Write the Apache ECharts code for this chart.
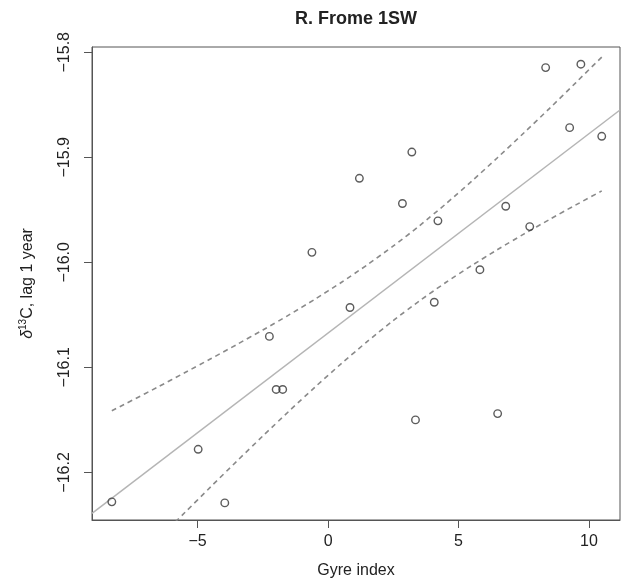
<!DOCTYPE html>
<html>
<head>
<meta charset="utf-8">
<script src="https://cdn.jsdelivr.net/npm/echarts@6/dist/echarts.min.js"></script>
<style>
  html, body { margin: 0; padding: 0; background: #fff; }
  #chart { width: 622px; height: 584px; }
</style>
</head>
<body>
<div id="chart"></div>
<script>
// Gyre index against δ13C (lag 1 year), R. Frome 1SW
const gyreIndex = [-8.29, -4.98, -3.96, -2.25, -1.99, -1.74, -0.62, 0.84, 1.20, 2.85, 3.21,
                   3.35, 4.07, 4.21, 5.82, 6.50, 6.81, 7.73, 8.34, 9.26, 9.69, 10.49];
const d13C = [-16.228, -16.178, -16.229, -16.0705, -16.121, -16.121, -15.9905, -16.043, -15.920,
              -15.944, -15.895, -16.150, -16.038, -15.9605, -16.007, -16.144, -15.9466, -15.966,
              -15.8146, -15.8718, -15.8114, -15.880];

// Fitted line (spans the plot region)
const fitX = [-9.05, 11.19];
const fitY = [-16.239, -15.855];

// Confidence band
const bandX = [-8.29, -7, -6, -5, -4, -3, -2, -1, 0, 1, 2, 3, 4, 5, 6, 7, 8, 9, 10, 10.49];
const bandUpper = [-16.1413, -16.1248, -16.1118, -16.0985, -16.0851, -16.0713, -16.0573, -16.0426,
                   -16.0272, -16.0109, -15.9935, -15.9750, -15.9550, -15.9338, -15.9116, -15.8886,
                   -15.8651, -15.8411, -15.8166, -15.8046];
const bandLower = [-16.3081, -16.2758, -16.2508, -16.2261, -16.2015, -16.1773, -16.1535, -16.1302,
                   -16.1076, -16.0859, -16.0653, -16.0460, -16.0280, -16.0112, -15.9954, -15.9804,
                   -15.9661, -15.9521, -15.9386, -15.9320];

const xTicks = [-5, 0, 5, 10];
const yTicks = [-16.2, -16.1, -16.0, -15.9, -15.8];

const titleText = 'R. Frome 1SW';
const xName = 'Gyre index';

const zip = (xs, ys) => xs.map((x, i) => [x, ys[i]]);
const minus = s => s.replace('-', '\u2212');

const FONT = 'Liberation Sans, Arial, Helvetica, sans-serif';
const INK = '#222';
const FRAME = '#555';

const GRID = { left: 92, top: 47, width: 528, height: 474 };

const chart = echarts.init(document.getElementById('chart'), null, { renderer: 'canvas' });

chart.setOption({
  animation: false,
  backgroundColor: '#fff',
  textStyle: { fontFamily: FONT },
  graphic: [{
    type: 'text',
    x: GRID.left + GRID.width / 2,
    y: 19,
    style: {
      text: titleText,
      fill: INK,
      font: 'bold 18px ' + FONT,
      textAlign: 'center',
      textVerticalAlign: 'middle'
    }
  }],
  grid: {
    left: GRID.left, top: GRID.top, width: GRID.width, height: GRID.height,
    show: true, borderColor: FRAME, borderWidth: 1, backgroundColor: 'transparent'
  },
  xAxis: {
    type: 'value',
    min: -9.05, max: 11.19,
    splitLine: { show: false },
    axisLine: { show: true, onZero: false, lineStyle: { color: FRAME, width: 1 } },
    axisTick: { show: true, length: 8, customValues: xTicks, lineStyle: { color: FRAME, width: 1 } },
    axisLabel: {
      customValues: xTicks, margin: 14, color: INK, fontSize: 16, fontFamily: FONT,
      formatter: v => minus(String(v))
    },
    name: xName, nameLocation: 'middle', nameGap: 43,
    nameTextStyle: { color: INK, fontSize: 16, fontFamily: FONT }
  },
  yAxis: {
    type: 'value',
    min: -16.2453, max: -15.795,
    splitLine: { show: false },
    axisLine: { show: true, onZero: false, lineStyle: { color: FRAME, width: 1 } },
    axisTick: { show: true, length: 8, customValues: yTicks, lineStyle: { color: FRAME, width: 1 } },
    axisLabel: {
      customValues: yTicks, rotate: 90, margin: 19, color: INK, fontSize: 16, fontFamily: FONT,
      formatter: v => minus(Number(v).toFixed(1))
    },
    name: '{d|\u03B4}{s|13}{c|C, lag 1 year}',
    nameLocation: 'middle', nameRotate: 90, nameGap: 56,
    nameTextStyle: {
      color: INK, fontSize: 16, fontFamily: FONT,
      rich: {
        d: { fontSize: 16, fontStyle: 'italic', color: INK, fontFamily: FONT, verticalAlign: 'bottom', lineHeight: 18 },
        s: { fontSize: 10, color: INK, fontFamily: FONT, verticalAlign: 'top', lineHeight: 18 },
        c: { fontSize: 16, color: INK, fontFamily: FONT, verticalAlign: 'bottom', lineHeight: 18 }
      }
    }
  },
  series: [
    {
      type: 'line',
      data: zip(fitX, fitY),
      showSymbol: false,
      clip: true,
      lineStyle: { color: '#b5b5b5', width: 1.5 },
      z: 2
    },
    {
      type: 'line',
      data: zip(bandX, bandUpper),
      smooth: true,
      showSymbol: false,
      clip: true,
      lineStyle: { color: '#8a8a8a', width: 1.6, type: [5, 4] },
      z: 2
    },
    {
      type: 'line',
      data: zip(bandX, bandLower),
      smooth: true,
      showSymbol: false,
      clip: true,
      lineStyle: { color: '#8a8a8a', width: 1.6, type: [5, 4] },
      z: 2
    },
    {
      type: 'scatter',
      data: zip(gyreIndex, d13C),
      symbol: 'circle',
      symbolSize: 7.5,
      itemStyle: { color: 'rgba(0,0,0,0)', borderColor: '#333', borderWidth: 1.4 },
      z: 3
    }
  ]
});
</script>
</body>
</html>
